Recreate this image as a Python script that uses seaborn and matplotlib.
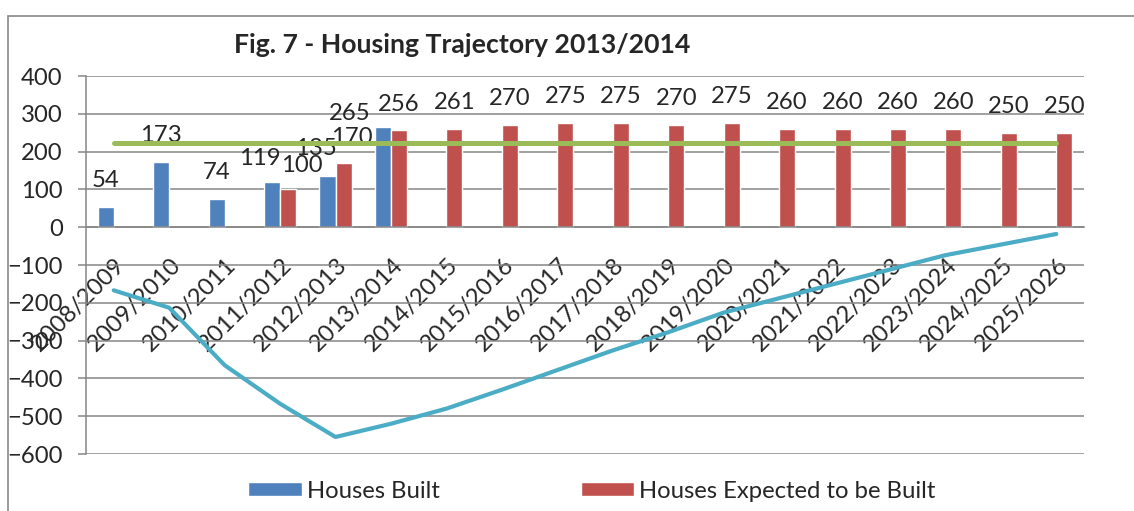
import numpy as np
import pandas as pd
import matplotlib
matplotlib.use("Agg")
import matplotlib.pyplot as plt
import matplotlib.transforms as mtransforms
from matplotlib.patches import Rectangle
import seaborn as sns

# Dados
years = [
    "2008/2009", "2009/2010", "2010/2011", "2011/2012", "2012/2013", "2013/2014",
    "2014/2015", "2015/2016", "2016/2017", "2017/2018", "2018/2019", "2019/2020",
    "2020/2021", "2021/2022", "2022/2023", "2023/2024", "2024/2025", "2025/2026",
]
houses_built = [54, 173, 74, 119, 135, 265, None, None, None,
                None, None, None, None, None, None, None, None, None]
houses_expected = [None, None, None, 100, 170, 256, 261, 270, 275,
                   275, 270, 275, 260, 260, 260, 260, 250, 250]
target = [222, 222, 222, 222, 222, 222, 222, 222, 222,
          222, 222, 222, 222, 222, 222, 222, 222, 222]
cumulative = [-167, -213, -365, -467, -555, -520, -480, -430, -378,
              -326, -278, -226, -188, -150, -112, -74, -46, -18]

series_names = ["Houses Built", "Houses Expected to be Built"]
BLUE, RED, GREEN, CYAN = "#4F81BD", "#C0504D", "#9BBB59", "#4BACC6"
GRAY = "#868686"

df = pd.DataFrame({
    "year": years * 2,
    "series": [series_names[0]] * len(years) + [series_names[1]] * len(years),
    "value": pd.array(houses_built + houses_expected, dtype="Float64").astype(float),
})

sns.set_style("white")
plt.rcParams["font.family"] = ["Lato", "DejaVu Sans"]
FS = 17.2

fig, ax = plt.subplots(figsize=(11.34, 5.11), dpi=100)
fig.subplots_adjust(left=86 / 1134, right=1084 / 1134, top=1 - 76 / 511, bottom=1 - 454 / 511)

sns.barplot(data=df, x="year", y="value", hue="series", order=years,
            hue_order=series_names, palette=[BLUE, RED], width=0.58,
            saturation=1, errorbar=None, ax=ax)
handles, labels = ax.get_legend_handles_labels()
if ax.get_legend() is not None:
    ax.get_legend().remove()

x_pos = np.arange(len(years))
sns.lineplot(x=x_pos, y=target, color=GREEN, linewidth=3.6, legend=False, ax=ax, zorder=4)
sns.lineplot(x=x_pos, y=cumulative, color=CYAN, linewidth=3.0, legend=False, ax=ax, zorder=5)

# rótulos de dados (deslocamentos tipo Excel)
nudges = {(0, 3): (-9, -2), (1, 3): (10, -2), (0, 4): (-8, 1), (1, 4): (6, -1),
          (0, 5): (-24, -9)}
for s, cont in enumerate(ax.containers[:2]):
    for bar in cont:
        h = bar.get_height()
        if np.isnan(h):
            continue
        xc = bar.get_x() + bar.get_width() / 2
        dx, dy = nudges.get((s, int(round(xc))), (0, 0))
        ax.annotate(f"{h:.0f}", (xc, h), xytext=(dx, 19 + dy), textcoords="offset points",
                    ha="center", va="center", fontsize=FS)

ax.set_xlim(-0.5, len(years) - 0.5)
ax.set_ylim(-600, 400)
ax.set_yticks(range(-600, 401, 100))
ax.yaxis.grid(True, color=GRAY, linewidth=1.1)
ax.set_axisbelow(True)
ax.set_xlabel("")
ax.set_ylabel("")

for side in ["top", "right"]:
    ax.spines[side].set_visible(False)
ax.spines["left"].set_color(GRAY)
ax.spines["bottom"].set_color(GRAY)
ax.spines["bottom"].set_position(("data", 0))
ax.spines["left"].set_linewidth(1.1)
ax.spines["bottom"].set_linewidth(1.1)

ax.set_xticks(x_pos)
ax.set_xticklabels(years, rotation=45, ha="right", va="center", rotation_mode="anchor")
ax.set_xticks(np.arange(-0.5, len(years), 1), minor=True)
ax.tick_params(axis="x", which="major", length=0, pad=25, labelsize=FS)
ax.tick_params(axis="x", which="minor", length=5, width=1.1, color=GRAY, direction="out")
ax.tick_params(axis="y", length=5.8, width=1.1, color=GRAY, pad=11, labelsize=FS, left=True)
offset = mtransforms.ScaledTranslation(6 / 72, 0, fig.dpi_scale_trans)
for lab in ax.get_xticklabels():
    lab.set_transform(lab.get_transform() + offset)

fig.text(462 / 1134, 1 - 45 / 511, "Fig. 7 - Housing Trajectory 2013/2014",
         ha="center", va="center", fontsize=19.2, fontweight="bold")

fig.legend(handles, labels, loc="center", bbox_to_anchor=(592 / 1134, 1 - 491 / 511),
           ncol=2, frameon=False, fontsize=FS, handlelength=2.25, handleheight=0.5,
           handletextpad=0.2, columnspacing=5.9)

fig.patches.append(Rectangle((8 / 1134, -0.1), 1.2, (511 - 16) / 511 + 0.1,
                             transform=fig.transFigure, fill=False,
                             edgecolor="#898989", linewidth=1.2))

fig.savefig("out.png", dpi=100)
